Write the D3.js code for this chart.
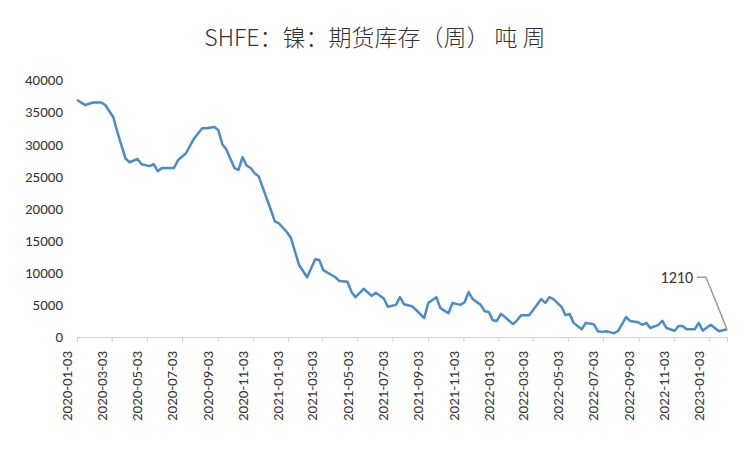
<!DOCTYPE html>
<html><head><meta charset="utf-8">
<script src="https://cdn.jsdelivr.net/npm/d3@7"></script>
<style>body{margin:0;background:#fff}</style></head>
<body><svg id="c" width="750" height="450"></svg>
<script>
const startDate = "2020-01-03";
const weeks = [0,2,4,6,7,9,10,12,13,15,16,18,19,20,21,24,25,27,29,31,32,34,35,36,37,39,40,41,42,43,44,45,48,49,50,52,53,55,57,59,60,61,64,65,67,68,69,71,73,74,76,77,79,80,81,83,84,86,87,89,90,92,93,95,96,97,98,100,101,102,103,104,105,106,108,109,110,112,115,116,117,118,120,121,122,123,125,126,128,129,130,131,133,134,136,137,139,140,141,142,144,145,146,148,149,150,151,153,154,155,157,159,161];
const values = [36900,36100,36500,36500,36100,34200,31900,27800,27200,27700,26900,26600,26900,25800,26300,26300,27500,28600,30900,32500,32500,32700,32200,30000,29200,26300,26000,28000,26700,26300,25500,25000,19800,18000,17700,16300,15400,11200,9300,12100,12000,10400,9300,8700,8600,7000,6200,7500,6400,6900,6000,4700,5000,6200,5100,4800,4200,2950,5300,6200,4500,3700,5300,5000,5400,7000,5900,5000,4000,3900,2600,2500,3600,3100,2000,2600,3400,3400,5900,5300,6200,5900,4700,3400,3600,2200,1200,2200,2000,900,800,900,600,900,3100,2500,2300,1900,2200,1400,1900,2500,1400,980,1700,1700,1200,1200,2200,1000,1900,900,1210];
const tickLabels = ["2020-01-03","2020-03-03","2020-05-03","2020-07-03","2020-09-03","2020-11-03","2021-01-03","2021-03-03","2021-05-03","2021-07-03","2021-09-03","2021-11-03","2022-01-03","2022-03-03","2022-05-03","2022-07-03","2022-09-03","2022-11-03","2023-01-03"];
const yTicks = [0,5000,10000,15000,20000,25000,30000,35000,40000];
const lastLabel = "1210";

const parse = d3.timeParse("%Y-%m-%d");
const t0 = parse(startDate);
const data = weeks.map((w,i)=>({d:d3.timeDay.offset(t0,w*7), v:values[i]}));
const svg = d3.select("#c");
const font = "Calibri, 'Liberation Sans', 'Noto Sans CJK SC', sans-serif";
const x = d3.scaleTime().domain([t0, data[data.length-1].d]).range([77,727]);
const y = d3.scaleLinear().domain([0,40000]).range([337,80]);

svg.append("text").attr("x",375).attr("y",46).attr("text-anchor","middle")
  .attr("font-size",23).attr("font-weight",300).attr("fill","#333").attr("font-family","'Noto Sans CJK SC', sans-serif")
  .text("SHFE：镍：期货库存（周）   吨 周");

const ya = svg.append("g").attr("transform","translate(77,0)")
  .call(d3.axisLeft(y).tickValues(yTicks).tickSize(0).tickPadding(14).tickFormat(d3.format("d")));
ya.select(".domain").remove();
ya.selectAll("text").attr("font-size",15).attr("fill","#333").attr("font-family",font);

const xa = svg.append("g").attr("transform","translate(0,337)")
  .call(d3.axisBottom(x).tickValues(tickLabels.map(parse)).tickSize(5).tickFormat(d3.timeFormat("%Y-%m-%d")));
xa.select(".domain").attr("stroke","#d0d0d0");
xa.selectAll(".tick line").attr("stroke","#d0d0d0");
xa.selectAll("text").attr("font-size",15).attr("fill","#333").attr("font-family",font)
  .attr("transform","rotate(-90)").attr("text-anchor","end").attr("dx","-0.6em").attr("dy","-0.35em").attr("y",0).attr("x",-5);

svg.append("path").datum(data).attr("fill","none").attr("stroke","#4a8bcb").attr("stroke-width",2.5)
  .attr("stroke-linejoin","round")
  .attr("d",d3.line().x(d=>x(d.d)).y(d=>y(d.v)));

const last = data[data.length-1];
const lx = x(last.d), ly = y(last.v);
svg.append("path").attr("fill","none").attr("stroke","#999").attr("stroke-width",1.5)
  .attr("d",`M${lx-30},${ly-52}L${lx-21},${ly-52}L${lx},${ly}`);
svg.append("text").attr("x",lx-34).attr("y",ly-46).attr("text-anchor","end")
  .attr("font-size",16).attr("fill","#333").attr("font-family",font).text(lastLabel);
</script></body></html>
